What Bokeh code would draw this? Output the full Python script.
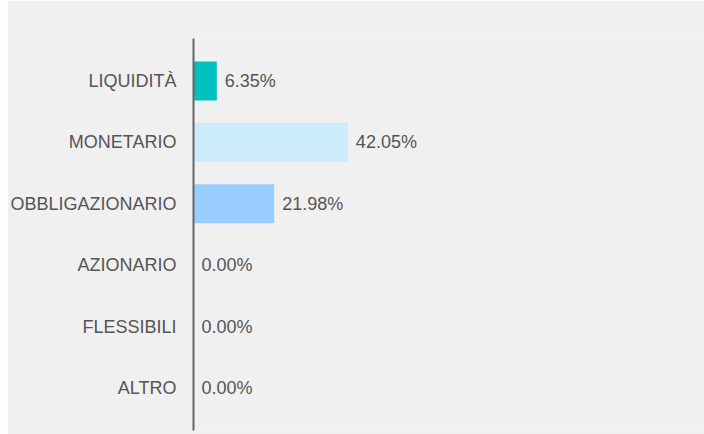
from bokeh.plotting import figure
from bokeh.models import FactorRange, Range1d, ColumnDataSource, Label, Spacer
from bokeh.layouts import row
from bokeh.core.properties import value
from bokeh.embed import file_html
from bokeh.resources import INLINE

categories = ["LIQUIDITÀ", "MONETARIO", "OBBLIGAZIONARIO", "AZIONARIO", "FLESSIBILI", "ALTRO"]
values = [6.35, 42.05, 21.98, 0.00, 0.00, 0.00]
colors = ["#00C1BE", "#CCEBFD", "#99CCFF", "#5B9BD5", "#5B9BD5", "#5B9BD5"]
labels = [f"{v:.2f}%" for v in values]
title_text = "Composizione per asset allocation"

FONT = "Liberation Sans"
BG = "#F0F0F0"

src = ColumnDataSource(dict(cat=categories, val=values, col=colors, lab=labels))

p = figure(
    width=697, height=434,
    y_range=FactorRange(factors=categories[::-1], range_padding=0.19, range_padding_units="absolute"),
    x_range=Range1d(0, 139.2),
    output_backend="svg", toolbar_location=None,
    min_border_left=186, min_border_right=0, min_border_top=38, min_border_bottom=4,
)
p.background_fill_color = BG
p.border_fill_color = BG
p.outline_line_color = None
p.xgrid.visible = False
p.ygrid.visible = False
p.xaxis.visible = False

p.hbar(y="cat", left=0, right="val", height=0.635, fill_color="col", line_color=None, source=src)
p.text(x="val", y="cat", text="lab", x_offset=8, text_align="left", text_baseline="middle",
       text_font=value(FONT), text_font_size="18px", text_color="#555555", source=src)

ax = p.yaxis[0]
ax.axis_line_color = "#666666"
ax.axis_line_width = 2
ax.major_tick_line_color = None
ax.minor_tick_line_color = None
ax.major_tick_out = 0
ax.major_tick_in = 0
ax.major_label_standoff = 17
ax.major_label_text_font = FONT
ax.major_label_text_font_size = "18px"
ax.major_label_text_color = "#555555"

# title: in the reference it sits above the top edge, only its lowest pixels show
p.add_layout(Label(x=-181, y=429.5, x_units="screen", y_units="screen", text=title_text,
                   text_font=FONT, text_font_size="20px", text_font_style="bold",
                   text_color="#333333", text_baseline="alphabetic", text_align="left"))

layout = row(Spacer(width=7, height=434), p)
open("out.html", "w").write(file_html(layout, INLINE))
